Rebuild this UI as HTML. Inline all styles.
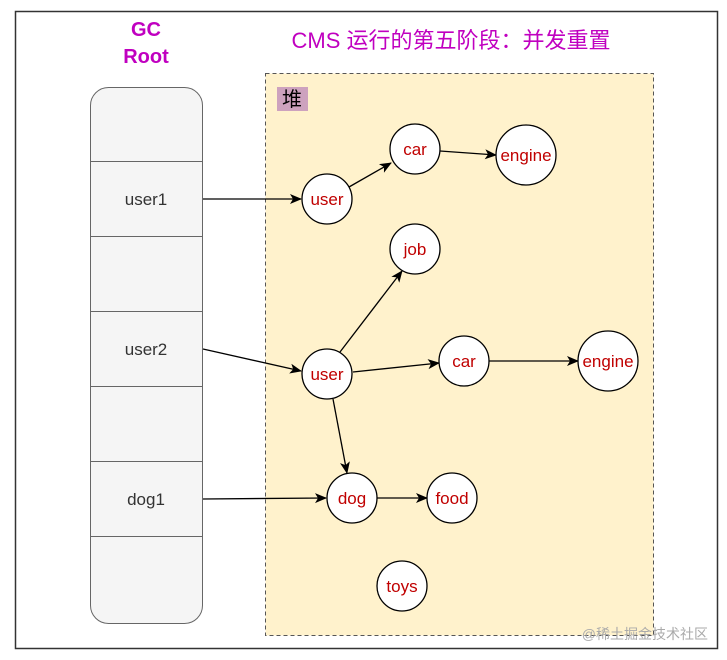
<!DOCTYPE html>
<html><head><style>body{margin:0;background:#fff}svg{display:block}text{font-family:"Liberation Sans","Noto Sans CJK SC",sans-serif}</style></head><body>
<svg width="727" height="660" viewBox="0 0 727 660">
<defs><marker id="a" markerWidth="12" markerHeight="12" refX="11" refY="6" orient="auto" markerUnits="userSpaceOnUse"><path d="M0,1 L12,6 L0,11 L3,6z" fill="#000"/></marker></defs>
<rect x="15.5" y="11.5" width="702" height="637" fill="#fff" stroke="#333" stroke-width="1.5"/>
<text x="146" y="36" font-size="20" font-weight="bold" fill="#c000c0" text-anchor="middle">GC</text>
<text x="146" y="63" font-size="20" font-weight="bold" fill="#c000c0" text-anchor="middle">Root</text>
<text x="451" y="48" font-size="22" fill="#c000c0" text-anchor="middle">CMS 运行的第五阶段：并发重置</text>
<rect x="265.5" y="73.5" width="388" height="562" fill="#fff2cc" stroke="#555" stroke-dasharray="4,3"/>
<rect x="277" y="87" width="31" height="24" fill="#cda2be"/>
<text x="292" y="106" font-size="20" text-anchor="middle" fill="#000">堆</text>
<rect x="90.5" y="87.5" width="112" height="536" rx="18" fill="#f5f5f5" stroke="#666"/>
<g stroke="#666"><line x1="90" y1="161.5" x2="203" y2="161.5"/><line x1="90" y1="236.5" x2="203" y2="236.5"/><line x1="90" y1="311.5" x2="203" y2="311.5"/><line x1="90" y1="386.5" x2="203" y2="386.5"/><line x1="90" y1="461.5" x2="203" y2="461.5"/><line x1="90" y1="536.5" x2="203" y2="536.5"/></g>
<g font-size="17" fill="#333" text-anchor="middle"><text x="146" y="205">user1</text><text x="146" y="355">user2</text><text x="146" y="505">dog1</text></g>
<g stroke="#000" stroke-width="1.3" marker-end="url(#a)" fill="none">
<line x1="203" y1="199" x2="301" y2="199"/>
<line x1="203" y1="349" x2="301" y2="371"/>
<line x1="203" y1="499" x2="326" y2="498"/>
<line x1="349" y1="187" x2="391" y2="163"/>
<line x1="440" y1="151" x2="496" y2="155"/>
<line x1="340" y1="352" x2="402" y2="271"/>
<line x1="353" y1="372" x2="439" y2="363"/>
<line x1="489" y1="361" x2="578" y2="361"/>
<line x1="333" y1="399" x2="347" y2="473"/>
<line x1="377" y1="498" x2="427" y2="498"/>
</g>
<g fill="#fff" stroke="#000" stroke-width="1.3">
<circle cx="327" cy="199" r="25"/><circle cx="415" cy="149" r="25"/><circle cx="526" cy="155" r="30"/>
<circle cx="415" cy="249" r="25"/><circle cx="327" cy="374" r="25"/><circle cx="464" cy="361" r="25"/>
<circle cx="608" cy="361" r="30"/><circle cx="352" cy="498" r="25"/><circle cx="452" cy="498" r="25"/><circle cx="402" cy="586" r="25"/>
</g>
<g font-size="17" fill="#c00000" text-anchor="middle">
<text x="327" y="205">user</text><text x="415" y="155">car</text><text x="526" y="161">engine</text>
<text x="415" y="255">job</text><text x="327" y="380">user</text><text x="464" y="367">car</text>
<text x="608" y="367">engine</text><text x="352" y="504">dog</text><text x="452" y="504">food</text><text x="402" y="592">toys</text>
</g>
<text x="708" y="639" font-size="14" fill="#aaa" text-anchor="end">@稀土掘金技术社区</text>
</svg>
</body></html>
